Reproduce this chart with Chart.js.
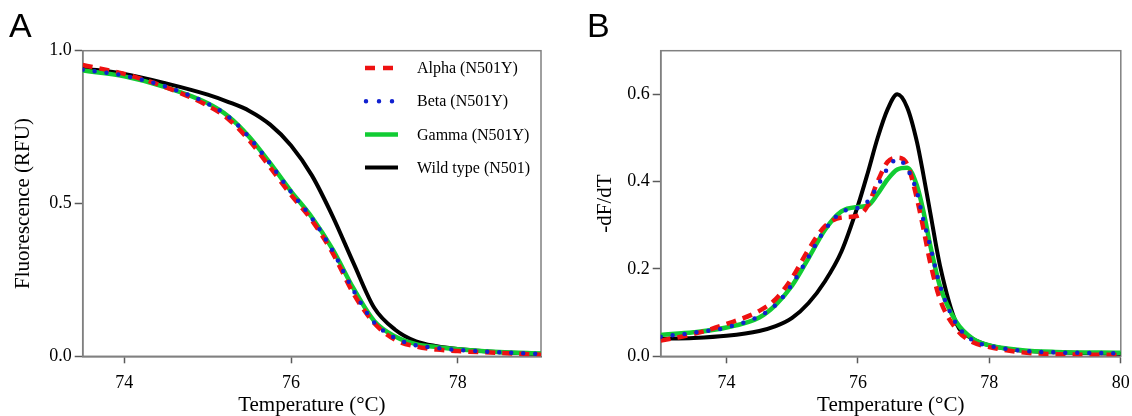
<!DOCTYPE html>
<html>
<head>
<meta charset="utf-8">
<script src="https://cdn.jsdelivr.net/npm/chart.js@4.4.1/dist/chart.umd.min.js"></script>
<style>
  body { margin: 0; background: white; width: 1132px; height: 416px; overflow: hidden; position: relative; }
  .panel { position: absolute; top: 0; }
  .letter { position: absolute; font-family: "Liberation Sans", Arial, sans-serif; font-size: 34px; color: black; line-height: 1; }
</style>
</head>
<body>
<div class="panel" style="left:0px"><canvas id="chartA" width="560" height="416"></canvas></div>
<div class="panel" style="left:560px"><canvas id="chartB" width="572" height="416"></canvas></div>
<div class="letter" style="left:9px; top:8px">A</div>
<div class="letter" style="left:587px; top:8px">B</div>

<script>
// series names (legend order)
var seriesNames = ["Alpha (N501Y)", "Beta (N501Y)", "Gamma (N501Y)", "Wild type (N501)"];

// panel A: melt curves, fluorescence (RFU) vs temperature
var tempA = [73.5, 74, 74.5, 75, 75.25, 75.5, 75.75, 76, 76.25, 76.5, 76.75, 77, 77.25, 77.5, 77.75, 78, 78.5, 79];
var alphaA = [0.953, 0.924, 0.880, 0.820, 0.776, 0.706, 0.618, 0.528, 0.445, 0.338, 0.205, 0.108, 0.054, 0.032, 0.022, 0.017, 0.011, 0.005];
var betaA  = [0.938, 0.918, 0.882, 0.827, 0.784, 0.716, 0.630, 0.538, 0.452, 0.345, 0.215, 0.110, 0.060, 0.036, 0.027, 0.021, 0.013, 0.008];
var gammaA = [0.935, 0.916, 0.880, 0.828, 0.785, 0.718, 0.632, 0.540, 0.455, 0.350, 0.222, 0.115, 0.065, 0.040, 0.030, 0.023, 0.014, 0.009];
var wildA  = [0.942, 0.924, 0.893, 0.856, 0.832, 0.803, 0.758, 0.690, 0.592, 0.458, 0.305, 0.158, 0.087, 0.049, 0.033, 0.024, 0.013, 0.008];

// panel B: first derivative -dF/dT vs temperature
var tempB = [73, 73.5, 74, 74.5, 74.75, 75, 75.25, 75.5, 75.75, 76, 76.15, 76.3, 76.45, 76.6, 76.75, 76.9, 77, 77.1, 77.25, 77.5, 77.75, 78, 78.5, 79, 80];
var alphaB = [0.036, 0.051, 0.074, 0.104, 0.131, 0.180, 0.245, 0.298, 0.318, 0.322, 0.345, 0.400, 0.445, 0.455, 0.440, 0.360, 0.290, 0.215, 0.130, 0.062, 0.032, 0.021, 0.009, 0.005, 0.003];
var betaB  = [0.045, 0.054, 0.066, 0.092, 0.118, 0.165, 0.228, 0.290, 0.330, 0.340, 0.355, 0.390, 0.430, 0.452, 0.430, 0.375, 0.310, 0.253, 0.161, 0.074, 0.036, 0.024, 0.013, 0.009, 0.007];
var gammaB = [0.049, 0.055, 0.066, 0.089, 0.118, 0.162, 0.225, 0.290, 0.332, 0.342, 0.345, 0.372, 0.405, 0.428, 0.432, 0.390, 0.330, 0.255, 0.160, 0.078, 0.040, 0.025, 0.014, 0.010, 0.008];
var wildB  = [0.040, 0.042, 0.047, 0.058, 0.069, 0.088, 0.122, 0.172, 0.240, 0.345, 0.420, 0.500, 0.565, 0.600, 0.570, 0.490, 0.413, 0.330, 0.207, 0.075, 0.040, 0.025, 0.013, 0.009, 0.006];

// tick labels
var xTicksA = [74, 76, 78];
var yTicksA = [0, 0.5, 1.0];
var xTicksB = [74, 76, 78, 80];
var yTicksB = [0, 0.2, 0.4, 0.6];

var serif = "'Liberation Serif', 'Times New Roman', serif";
var axisGray = "#5a5a5a";

// line styles per series
var styles = [
    { color: "#ee1111", width: 4.5, dash: [10, 7], cap: "butt", order: 1 },
    { color: "#1020d0", width: 4.5, dash: [0, 12], cap: "round", order: 0 },
    { color: "#11cc33", width: 4.5, dash: [], cap: "butt", order: 2 },
    { color: "#000000", width: 4, dash: [], cap: "butt", order: 3 }
];

function toPoints(xs, ys) {
    var pts = [];
    for (var i = 0; i < xs.length; i++) {
        pts.push({ x: xs[i], y: ys[i] });
    }
    return pts;
}

function buildDatasets(xs, seriesList) {
    var sets = [];
    for (var i = 0; i < seriesList.length; i++) {
        var s = styles[i];
        sets.push({
            label: seriesNames[i],
            data: toPoints(xs, seriesList[i]),
            borderColor: s.color,
            backgroundColor: s.color,
            borderWidth: s.width,
            borderDash: s.dash,
            borderCapStyle: s.cap,
            pointRadius: 0,
            cubicInterpolationMode: "monotone",
            fill: false,
            order: s.order
        });
    }
    return sets;
}

// gray box round the plot area
var framePlugin = {
    id: "frame",
    beforeDatasetsDraw: function(chart) {
        var a = chart.chartArea;
        var ctx = chart.ctx;
        ctx.save();
        ctx.strokeStyle = "#808080";
        ctx.lineWidth = 1.5;
        ctx.strokeRect(a.left, a.top, a.right - a.left, a.bottom - a.top);
        ctx.restore();
    }
};

// legend drawn inside panel A, upper right
var legendPlugin = {
    id: "innerLegend",
    afterDraw: function(chart) {
        var ctx = chart.ctx;
        var sets = chart.data.datasets;
        ctx.save();
        ctx.font = "16px " + serif;
        ctx.textBaseline = "middle";
        ctx.fillStyle = "#000";
        for (var i = 0; i < sets.length; i++) {
            var y = 68 + i * 33.2;
            ctx.beginPath();
            ctx.strokeStyle = sets[i].borderColor;
            ctx.lineWidth = sets[i].borderWidth;
            ctx.lineCap = sets[i].borderCapStyle;
            ctx.setLineDash(sets[i].borderDash.length ? (i == 1 ? [0, 13] : [10, 8]) : []);
            ctx.moveTo(i == 1 ? 366 : 365, y);
            ctx.lineTo(i == 1 ? 393 : 398, y);
            ctx.stroke();
            ctx.setLineDash([]);
            ctx.fillText(sets[i].label, 417, y + 1);
        }
        ctx.restore();
    }
};

function makeScales(xmin, xmax, xticks, ymin, ymax, yticks, ytitle, yWidth, yTitlePad, yDigits) {
    return {
        x: {
            type: "linear",
            min: xmin,
            max: xmax,
            afterBuildTicks: function(scale) {
                scale.ticks = xticks.map(function(v) { return { value: v }; });
            },
            afterFit: function(scale) {
                scale.height = 59.7;
                // keep the plot edges where the layout padding puts them
                scale.paddingLeft = 0;
                scale.paddingRight = 0;
            },
            border: { display: true, color: axisGray, width: 1.5 },
            grid: { drawOnChartArea: false, drawTicks: true, tickLength: 7, tickColor: axisGray, tickWidth: 1.5 },
            ticks: {
                color: "#000",
                font: { family: serif, size: 18 },
                padding: 9,
                maxRotation: 0,
                callback: function(v) { return String(v); }
            },
            title: {
                display: true,
                text: "Temperature (°C)",
                color: "#000",
                font: { family: serif, size: 21, lineHeight: 1.2 },
                padding: { top: 0, bottom: -2 }
            }
        },
        y: {
            type: "linear",
            min: ymin,
            max: ymax,
            afterBuildTicks: function(scale) {
                scale.ticks = yticks.map(function(v) { return { value: v }; });
            },
            afterFit: function(scale) {
                scale.width = yWidth;
                scale.paddingTop = 0;
                scale.paddingBottom = 0;
            },
            border: { display: true, color: axisGray, width: 1.5 },
            grid: { drawOnChartArea: false, drawTicks: true, tickLength: 8, tickColor: axisGray, tickWidth: 1.5 },
            ticks: {
                color: "#000",
                font: { family: serif, size: 18 },
                padding: 3,
                callback: function(v) { return Number(v).toFixed(yDigits); }
            },
            title: {
                display: true,
                text: ytitle,
                color: "#000",
                font: { family: serif, size: 21, lineHeight: 1.2 },
                padding: { top: yTitlePad, bottom: 0 }
            }
        }
    };
}

var chartA = new Chart(document.getElementById("chartA"), {
    type: "line",
    data: { datasets: buildDatasets(tempA, [alphaA, betaA, gammaA, wildA]) },
    options: {
        responsive: false,
        animation: false,
        devicePixelRatio: 1,
        layout: { padding: { left: 0, top: 50.7, right: 19, bottom: 0 } },
        plugins: { legend: { display: false }, tooltip: { enabled: false } },
        scales: makeScales(73.5, 79, xTicksA, 0, 1.0, yTicksA, "Fluorescence (RFU)", 82.7, 10.5, 1)
    },
    plugins: [framePlugin, legendPlugin]
});

var chartB = new Chart(document.getElementById("chartB"), {
    type: "line",
    data: { datasets: buildDatasets(tempB, [alphaB, betaB, gammaB, wildB]) },
    options: {
        responsive: false,
        animation: false,
        devicePixelRatio: 1,
        layout: { padding: { left: 0, top: 50.7, right: 11.2, bottom: 0 } },
        plugins: { legend: { display: false }, tooltip: { enabled: false } },
        scales: makeScales(73, 80, xTicksB, 0, 0.7, yTicksB, "-dF/dT", 100.7, 33, 1)
    },
    plugins: [framePlugin]
});
</script>
</body>
</html>
